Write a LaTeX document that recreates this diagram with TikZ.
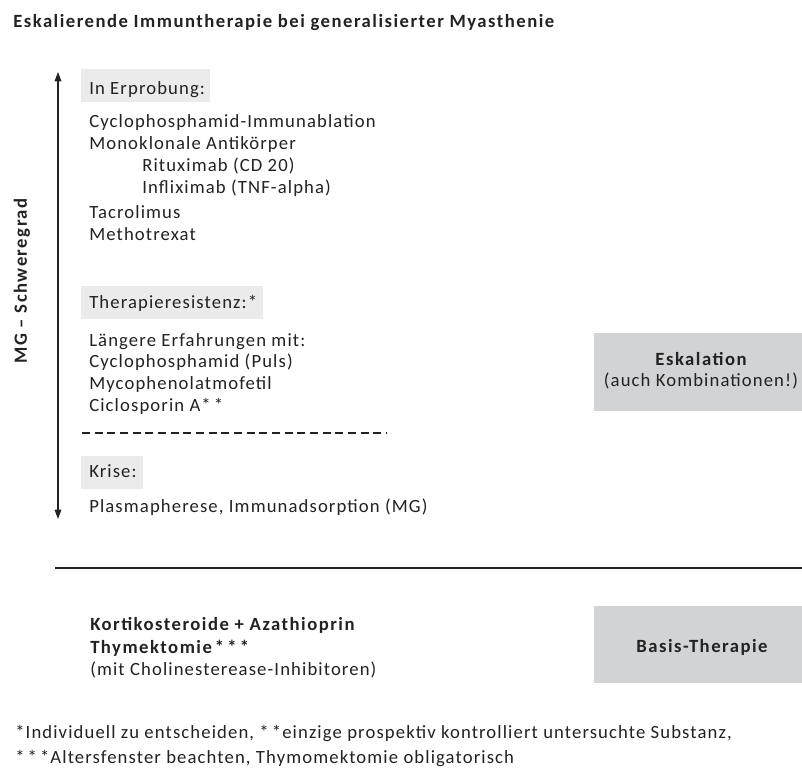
\documentclass[tikz,border=0pt]{standalone}
\usepackage{fontspec}
\setmainfont[LetterSpace=6,BoldFeatures={LetterSpace=8}]{Carlito}
\usetikzlibrary{arrows.meta}

\definecolor{boxlight}{HTML}{EBEBEB}
\definecolor{boxdark}{HTML}{D2D3D5}
\definecolor{ink}{HTML}{222222}
\newcommand{\fs}{\fontsize{14}{16}\selectfont}

\tikzset{
  txt/.style={anchor=base west, inner sep=0pt, font=\fs, text=ink},
  hd/.style={txt, font=\fs\bfseries},
  mid/.style={anchor=base, inner sep=0pt, font=\fs\bfseries, text=ink},
}

\begin{document}
\begin{tikzpicture}[x=0.75pt, y=-0.75pt]
    \useasboundingbox (0,0) rectangle (802,769);

    % Title
    \node[hd] (titel) at (13,27) {Eskalierende Immuntherapie bei generalisierter Myasthenie};

    % Severity axis
    \coordinate (oben) at (58,72);
    \coordinate (unten) at (58,519);
    \draw[ink, line width=0.8pt, {Triangle[length=7pt,width=5pt]}-{Triangle[length=7pt,width=5pt]}] (oben) -- (unten);
    \node[mid, anchor=center, rotate=90] (schwere) at (22,281) {MG – Schweregrad};

    % Gray heading boxes
    \fill[boxlight] (81,69) rectangle (210,102);
    \fill[boxlight] (81,286) rectangle (263,319);
    \fill[boxlight] (81,456) rectangle (143,489);

    % In Erprobung
    \node[txt] (erprob) at (89,94) {In Erprobung:};
    \node[txt] (cycimm) at (89,127) {Cyclophosphamid-Immunablation};
    \node[txt] (mono) at (89,149) {Monoklonale Antikörper};
    \node[txt] (ritux) at (142,171) {Rituximab (CD 20)};
    \node[txt] (inflix) at (142,193) {Infliximab (TNF-alpha)};
    \node[txt] (tacro) at (89,218) {Tacrolimus};
    \node[txt] (metho) at (89,240) {Methotrexat};

    % Therapieresistenz
    \node[txt] (resist) at (89,308) {Therapieresistenz:*};
    \node[txt] (laenger) at (89,346) {Längere Erfahrungen mit:};
    \node[txt] (cycpuls) at (89,367) {Cyclophosphamid (Puls)};
    \node[txt] (myco) at (89,389) {Mycophenolatmofetil};
    \node[txt] (ciclo) at (89,411) {Ciclosporin A*\,*};

    % Separator
    \coordinate (trennA) at (82,433);
    \coordinate (trennB) at (387,433);
    \draw[ink, line width=0.8pt, dash pattern=on 6pt off 3.5pt] (trennA) -- (trennB);

    % Krise
    \node[txt] (krise) at (89,477) {Krise:};
    \node[txt] (plasma) at (89,512) {Plasmapherese, Immunadsorption (MG)};

    % Escalation box
    \fill[boxdark] (594,333) rectangle (802,411);
    \node[mid] (eskal) at (701,365) {Eskalation};
    \node[mid, font=\fs] (kombi) at (701,386) {(auch Kombinationen!)};

    % Base line
    \coordinate (linieA) at (55,568);
    \coordinate (linieB) at (802,568);
    \draw[ink, line width=1pt] (linieA) -- (linieB);

    % Basistherapie
    \node[hd] (korti) at (90,630) {Kortikosteroide + Azathioprin};
    \node[hd] (thym) at (90,653) {Thymektomie\,*\,*\,*};
    \node[txt] (chol) at (90,675) {(mit Cholinesterease-Inhibitoren)};
    \fill[boxdark] (594,606) rectangle (802,683);
    \node[mid] (basis) at (702,652) {Basis-Therapie};

    % Footnotes
    \node[txt] (fn1) at (15,738) {*Individuell zu entscheiden, *\,*einzige prospektiv kontrolliert untersuchte Substanz,};
    \node[txt] (fn2) at (15,763) {*\,*\,*Altersfenster beachten, Thymomektomie obligatorisch};
\end{tikzpicture}
\end{document}
